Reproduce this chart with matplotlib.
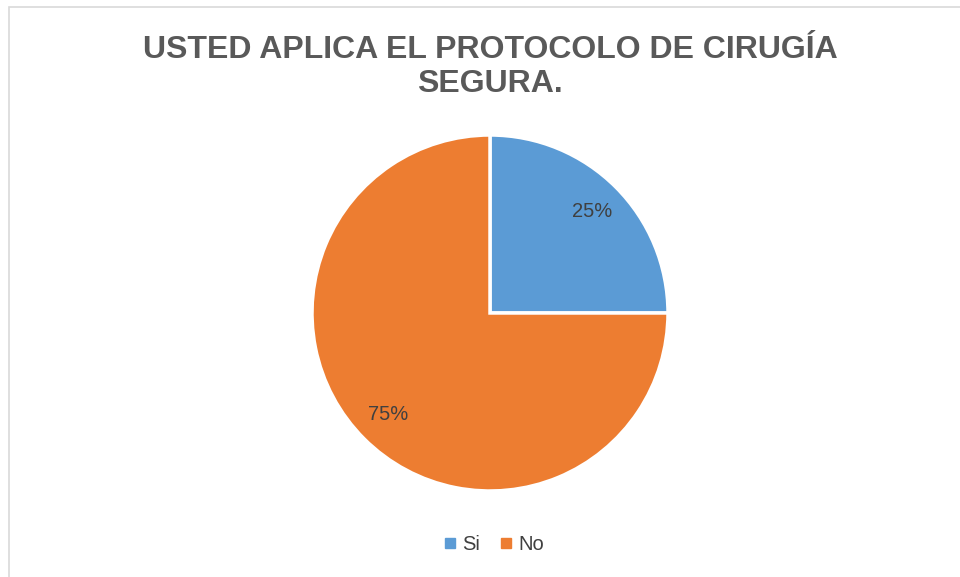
import matplotlib
matplotlib.use("Agg")
import matplotlib.pyplot as plt
from matplotlib.patches import Rectangle

# data
categories = ["Si", "No"]
values = [25, 75]
colors = ["#5B9BD5", "#ED7D31"]
title = "USTED APLICA EL PROTOCOLO DE CIRUGÍA\nSEGURA."

W, H = 960, 577
fig = plt.figure(figsize=(W / 100, H / 100), dpi=100)
fig.patch.set_facecolor("white")

# light grey chart border (clipped at right/bottom like the screenshot)
fig.add_artist(Rectangle((9 / W, -0.1), 1.2, 1 - 7 / H + 0.1,
                         transform=fig.transFigure, fill=False,
                         edgecolor="#D9D9D9", lw=1.2))

cx, cy, r = 490, 313, 178
ax = fig.add_axes([(cx - r) / W, (H - cy - r) / H, 2 * r / W, 2 * r / H])
wedges, texts, autotexts = ax.pie(
    values, colors=colors, startangle=90, counterclock=False,
    autopct="%1.0f%%", pctdistance=0.81, radius=1,
    wedgeprops=dict(edgecolor="white", linewidth=2.5),
    textprops=dict(color="#404040", fontsize=14.5, family="Liberation Sans"))
ax.set_xlim(-1.0, 1.0)
ax.set_ylim(-1.0, 1.0)
ax.set_aspect("equal")
ax.axis("off")

fig.text(490 / W, 1 - 67 / H, title, ha="center", va="center",
         fontsize=23, fontweight="bold", color="#595959",
         family="Liberation Sans", linespacing=1.2)

handles = [plt.Line2D([], [], marker="s", ls="", color=c, markersize=7)
           for c in colors]
fig.legend(handles, categories, loc="center", bbox_to_anchor=(493 / W, 1 - 545 / H),
           ncol=2, frameon=False, handletextpad=0.2, columnspacing=0.9,
           prop=dict(family="Liberation Sans", size=14.5), labelcolor="#404040",
           handlelength=0.8)

fig.savefig("out.png", dpi=100)
